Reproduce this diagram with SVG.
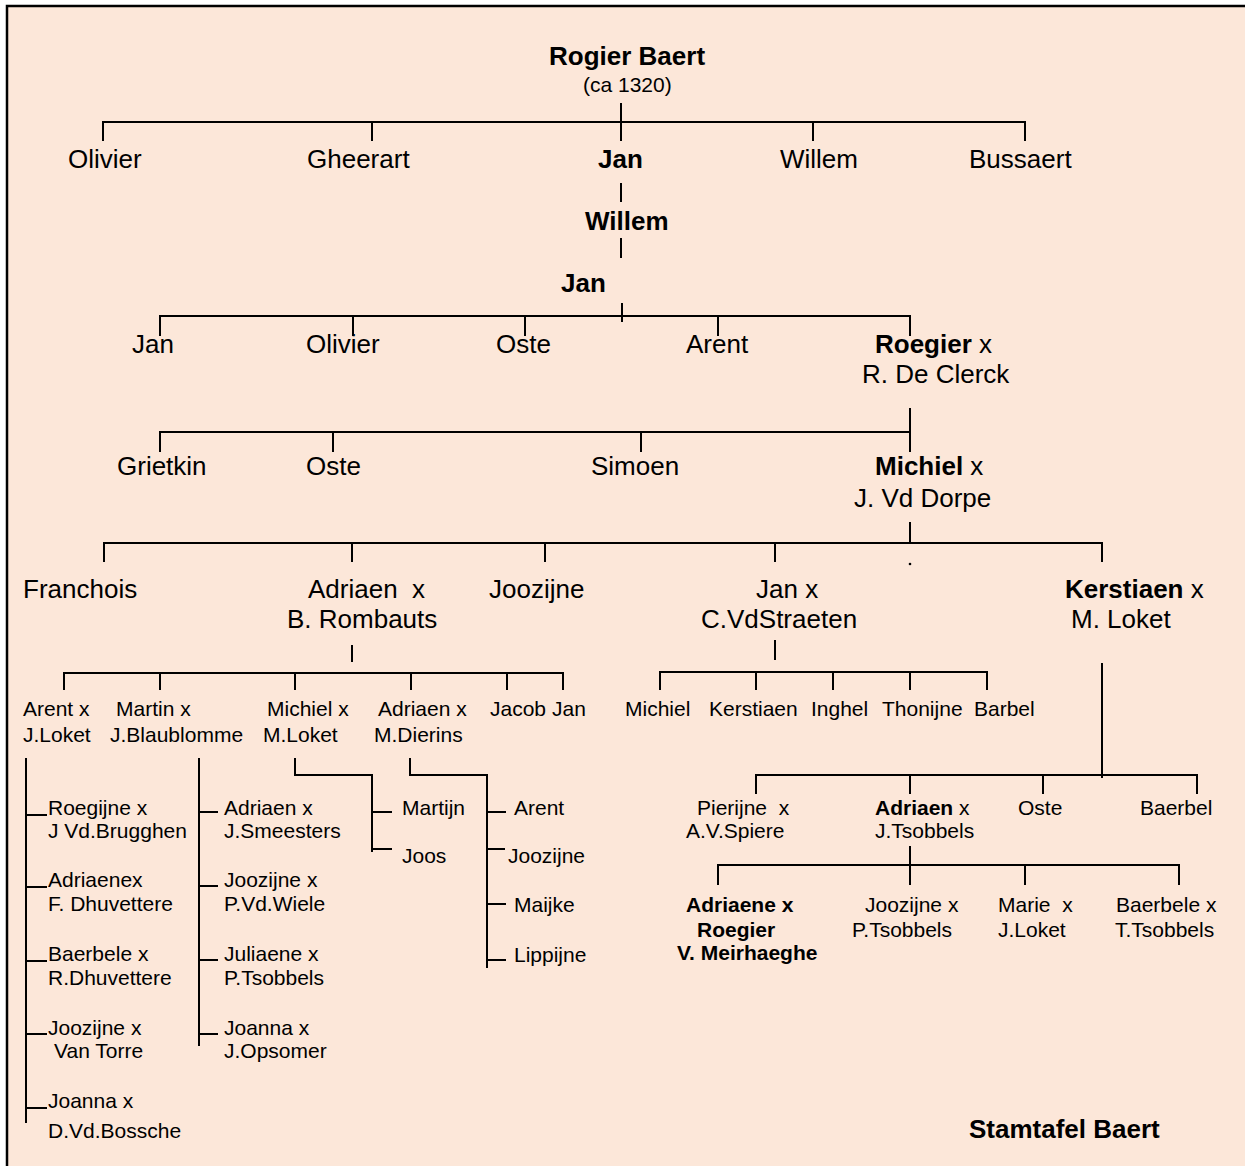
<svg xmlns="http://www.w3.org/2000/svg" width="1245" height="1166" viewBox="0 0 1245 1166">
<style>
text{font-family:"Liberation Sans",Arial,sans-serif;fill:#000}
.L{font-size:26px}
.S{font-size:21px}
.b{font-weight:bold}
.c line,.c path{stroke:#000;stroke-width:2;fill:none}
</style>
<rect x="0" y="0" width="1245" height="1166" fill="#fff"/>
<rect x="7" y="6" width="1250" height="1175" fill="#FCE7D9" stroke="#000" stroke-width="2.5"/>
<g id="connectors" class="c">
<path d="M103 141V122H1025V141M372 122V141M813 122V141M621 103V141"/>
<line x1="621" y1="183" x2="621" y2="202"/>
<line x1="621" y1="238" x2="621" y2="258"/>
<path d="M160 336V316H910V336M353 316V336M525 316V336M718 316V336M622 303V322"/>
<path d="M910 408V452M160 452V432H910M333 432V452M641 432V452"/>
<path d="M910 522V543M104 562V543H1102V562M352 543V562M545 543V562M775 543V562"/>
<circle cx="910" cy="564" r="1.3" fill="#000"/>
<path d="M352 645V662M64 690V673H563V690M160 673V690M295 673V690M411 673V690M507 673V690"/>
<path d="M775 640V660M660 690V672H987V690M756 672V690M833 672V690M910 672V690"/>
<path d="M1102 663V778M756 794V775H1197V794M910 775V794M1043 775V794"/>
<path d="M910 846V865M718 885V865H1179V885M910 865V885M1025 865V885"/>
<path d="M26 758V1123M26 815H47M26 887H47M26 961H47M26 1034H47M26 1108H47"/>
<path d="M199 758V1046M199 812H218M199 886H218M199 960H218M199 1034H218"/>
<path d="M295 758V775H372V852M372 812H392M372 849H392"/>
<path d="M410 758V775H487V968M487 812H506M487 849H505M487 904H506M487 960H506"/>
</g>
<g id="n-rogier"><text class="L b" x="549" y="65">Rogier Baert</text><text class="S" x="583" y="92">(ca 1320)</text></g>
<g id="n-olivier1"><text class="L" x="68" y="168">Olivier</text></g>
<g id="n-gheerart"><text class="L" x="307" y="168">Gheerart</text></g>
<g id="n-jan1"><text class="L b" x="598" y="168">Jan</text></g>
<g id="n-willem1"><text class="L" x="780" y="168">Willem</text></g>
<g id="n-bussaert"><text class="L" x="969" y="168">Bussaert</text></g>
<g id="n-willem2"><text class="L b" x="585" y="230">Willem</text></g>
<g id="n-jan2"><text class="L b" x="561" y="292">Jan</text></g>
<g id="n-jan3"><text class="L" x="132" y="353">Jan</text></g>
<g id="n-olivier2"><text class="L" x="306" y="353">Olivier</text></g>
<g id="n-oste1"><text class="L" x="496" y="353">Oste</text></g>
<g id="n-arent1"><text class="L" x="686" y="353">Arent</text></g>
<g id="n-roegier"><text class="L" x="875" y="353"><tspan class="b">Roegier</tspan> x</text><text class="L" x="862" y="383">R. De Clerck</text></g>
<g id="n-grietkin"><text class="L" x="117" y="475">Grietkin</text></g>
<g id="n-oste2"><text class="L" x="306" y="475">Oste</text></g>
<g id="n-simoen"><text class="L" x="591" y="475">Simoen</text></g>
<g id="n-michiel1"><text class="L" x="875" y="475"><tspan class="b">Michiel</tspan> x</text><text class="L" x="854" y="507">J. Vd Dorpe</text></g>
<g id="n-franchois"><text class="L" x="23" y="598">Franchois</text></g>
<g id="n-adriaen1"><text class="L" x="308" y="598">Adriaen&#160; x</text><text class="L" x="287" y="628">B. Rombauts</text></g>
<g id="n-joozijne1"><text class="L" x="489" y="598">Joozijne</text></g>
<g id="n-jan4"><text class="L" x="756" y="598">Jan x</text><text class="L" x="701" y="628">C.VdStraeten</text></g>
<g id="n-kerstiaen1"><text class="L" x="1065" y="598"><tspan class="b">Kerstiaen</tspan> x</text><text class="L" x="1071" y="628">M. Loket</text></g>
<g id="n-arent2"><text class="S" x="23" y="716">Arent x</text><text class="S" x="23" y="742">J.Loket</text></g>
<g id="n-martin"><text class="S" x="116" y="716">Martin x</text><text class="S" x="110" y="742">J.Blaublomme</text></g>
<g id="n-michiel2"><text class="S" x="267" y="716">Michiel x</text><text class="S" x="263" y="742">M.Loket</text></g>
<g id="n-adriaen2"><text class="S" x="378" y="716">Adriaen x</text><text class="S" x="374" y="742">M.Dierins</text></g>
<g id="n-jacob"><text class="S" x="490" y="716">Jacob</text></g>
<g id="n-jan5"><text class="S" x="552" y="716">Jan</text></g>
<g id="n-michiel3"><text class="S" x="625" y="716">Michiel</text></g>
<g id="n-kerstiaen2"><text class="S" x="709" y="716">Kerstiaen</text></g>
<g id="n-inghel"><text class="S" x="811" y="716">Inghel</text></g>
<g id="n-thonijne"><text class="S" x="882" y="716">Thonijne</text></g>
<g id="n-barbel"><text class="S" x="974" y="716">Barbel</text></g>
<g id="n-roegijne"><text class="S" x="48" y="815">Roegijne x</text><text class="S" x="48" y="838">J Vd.Brugghen</text></g>
<g id="n-adriaene1"><text class="S" x="48" y="887">Adriaenex</text><text class="S" x="48" y="911">F. Dhuvettere</text></g>
<g id="n-baerbele1"><text class="S" x="48" y="961">Baerbele x</text><text class="S" x="48" y="985">R.Dhuvettere</text></g>
<g id="n-joozijne2"><text class="S" x="48" y="1035">Joozijne x</text><text class="S" x="54" y="1058">Van Torre</text></g>
<g id="n-joanna1"><text class="S" x="48" y="1108">Joanna x</text><text class="S" x="48" y="1138">D.Vd.Bossche</text></g>
<g id="n-adriaen3"><text class="S" x="224" y="815">Adriaen x</text><text class="S" x="224" y="838">J.Smeesters</text></g>
<g id="n-joozijne3"><text class="S" x="224" y="887">Joozijne x</text><text class="S" x="224" y="911">P.Vd.Wiele</text></g>
<g id="n-juliaene"><text class="S" x="224" y="961">Juliaene x</text><text class="S" x="224" y="985">P.Tsobbels</text></g>
<g id="n-joanna2"><text class="S" x="224" y="1035">Joanna x</text><text class="S" x="224" y="1058">J.Opsomer</text></g>
<g id="n-martijn"><text class="S" x="402" y="815">Martijn</text></g>
<g id="n-joos"><text class="S" x="402" y="863">Joos</text></g>
<g id="n-arent3"><text class="S" x="514" y="815">Arent</text></g>
<g id="n-joozijne4"><text class="S" x="508" y="863">Joozijne</text></g>
<g id="n-maijke"><text class="S" x="514" y="912">Maijke</text></g>
<g id="n-lippijne"><text class="S" x="514" y="962">Lippijne</text></g>
<g id="n-pierijne"><text class="S" x="697" y="815">Pierijne&#160; x</text><text class="S" x="686" y="838">A.V.Spiere</text></g>
<g id="n-adriaen4"><text class="S" x="875" y="815"><tspan class="b">Adriaen</tspan> x</text><text class="S" x="875" y="838">J.Tsobbels</text></g>
<g id="n-oste3"><text class="S" x="1018" y="815">Oste</text></g>
<g id="n-baerbel"><text class="S" x="1140" y="815">Baerbel</text></g>
<g id="n-adriaene2"><text class="S b" x="686" y="912">Adriaene x</text><text class="S b" x="697" y="937">Roegier</text><text class="S b" x="677" y="960">V. Meirhaeghe</text></g>
<g id="n-joozijne5"><text class="S" x="865" y="912">Joozijne x</text><text class="S" x="852" y="937">P.Tsobbels</text></g>
<g id="n-marie"><text class="S" x="998" y="912">Marie&#160; x</text><text class="S" x="998" y="937">J.Loket</text></g>
<g id="n-baerbele2"><text class="S" x="1116" y="912">Baerbele x</text><text class="S" x="1115" y="937">T.Tsobbels</text></g>
<g id="title"><text class="L b" x="969" y="1138">Stamtafel Baert</text></g>
</svg>
